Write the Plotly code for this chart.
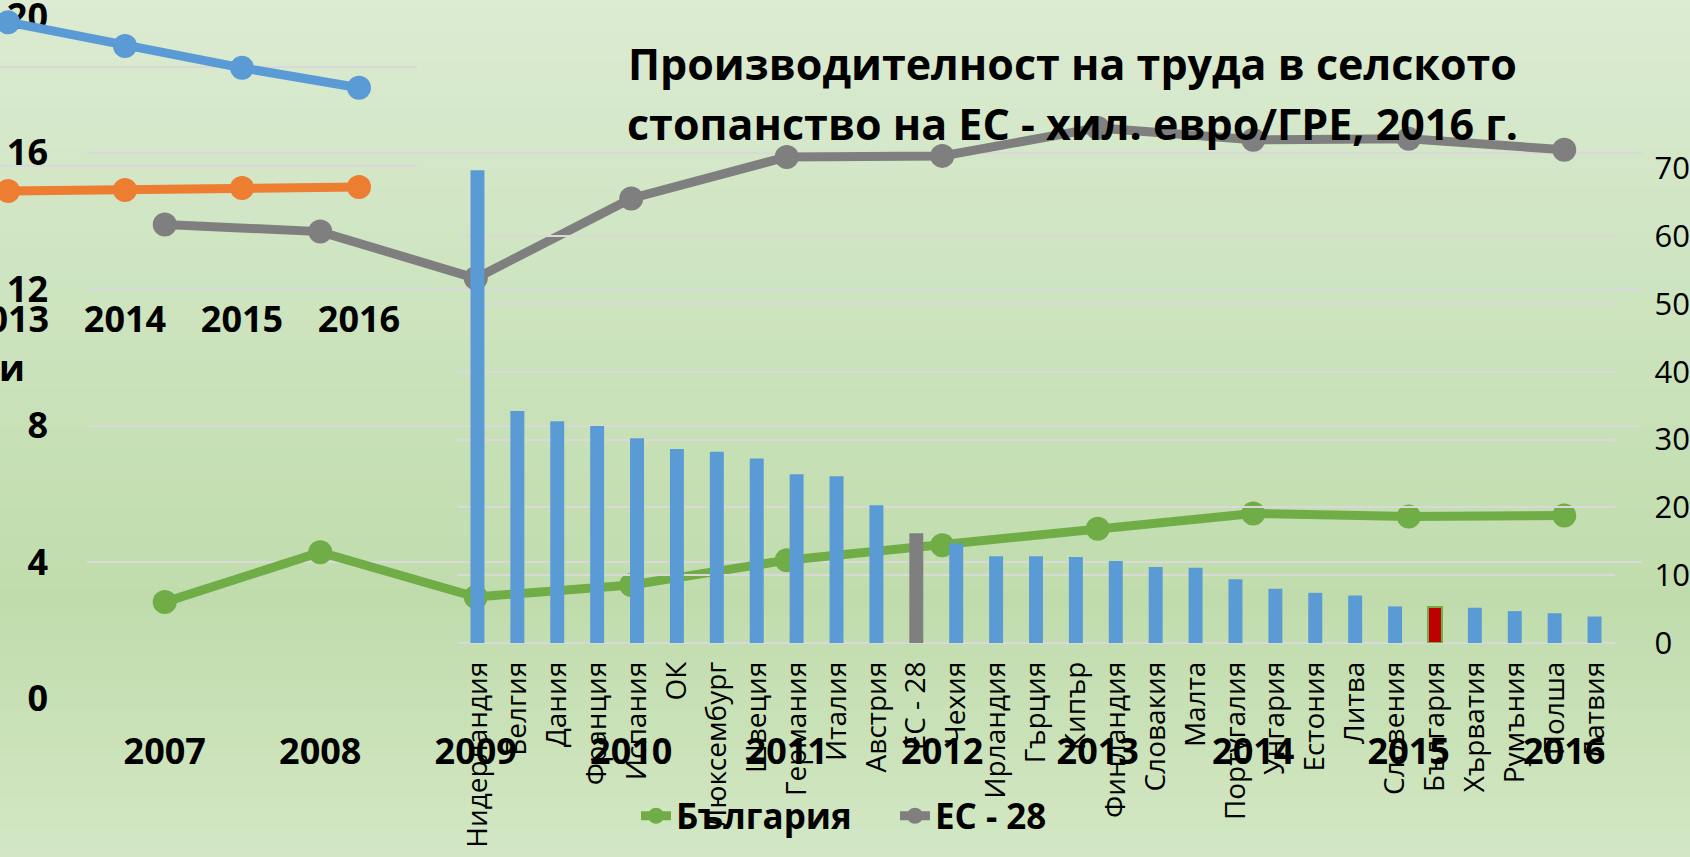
import plotly.graph_objects as go

W, H = 1690, 857

# ---------------- data ----------------
years_main = ["2007", "2008", "2009", "2010", "2011", "2012", "2013", "2014", "2015", "2016"]
bulgaria = [2.83, 4.29, 2.98, 3.33, 4.06, 4.50, 4.98, 5.43, 5.34, 5.37]
eu28 = [13.90, 13.69, 12.32, 14.66, 15.88, 15.91, 16.73, 16.38, 16.41, 16.09]
main_yticks = [0, 4, 8, 12, 16, 20]

years_small = [2013, 2014, 2015, 2016]
blue_small = [16.90, 16.42, 15.98, 15.58]
orange_small = [13.50, 13.52, 13.56, 13.58]

countries = ["Нидерландия", "Белгия", "Дания", "Франция", "Испания", "ОК", "Люксембург",
             "Швеция", "Германия", "Италия", "Австрия", "ЕС - 28", "Чехия", "Ирландия",
             "Гърция", "Кипър", "Финландия", "Словакия", "Малта", "Португалия", "Унгария",
             "Естония", "Литва", "Словения", "България", "Хърватия", "Румъния", "Полша", "Латвия"]
productivity = [69.7, 34.2, 32.7, 32.0, 30.2, 28.6, 28.2, 27.2, 24.9, 24.6, 20.3, 16.2, 14.7,
                12.8, 12.8, 12.7, 12.1, 11.2, 11.1, 9.4, 8.0, 7.4, 7.0, 5.4, 5.3, 5.2, 4.7, 4.4, 3.9]
bar_yticks = [0, 10, 20, 30, 40, 50, 60, 70]

title_lines = ["Производителност на труда в селското",
               "стопанство на ЕС - хил. евро/ГРЕ, 2016 г."]

# ---------------- styles ----------------
GREEN = "#70AD47"
GREY = "#7F7F7F"
BLUE = "#5B9BD5"
ORANGE = "#ED7D31"
RED = "#C00000"
GRID = "#D9D9D9"
FONT = "Open Sans, Noto Sans, DejaVu Sans, sans-serif"

bar_colors = [GREY if c == "ЕС - 28" else (RED if c == "България" else BLUE) for c in countries]
bar_line_colors = [GREEN if c == "България" else "rgba(0,0,0,0)" for c in countries]
bar_line_widths = [2 if c == "България" else 0 for c in countries]


def px_x(p):
    return p / W


def px_y(p):
    return 1 - p / H


fig = go.Figure()

# main chart: Bulgaria vs EU-28 over years
fig.add_trace(go.Scatter(x=years_main, y=bulgaria, name="България", mode="lines+markers",
                         line=dict(color=GREEN, width=9), marker=dict(size=24, color=GREEN),
                         xaxis="x", yaxis="y"))
fig.add_trace(go.Scatter(x=years_main, y=eu28, name="ЕС - 28", mode="lines+markers",
                         line=dict(color=GREY, width=9), marker=dict(size=24, color=GREY),
                         xaxis="x", yaxis="y"))

# bar chart: countries 2016
fig.add_trace(go.Bar(x=countries, y=productivity, width=0.35, showlegend=False,
                     marker=dict(color=bar_colors, line=dict(color=bar_line_colors, width=bar_line_widths)),
                     xaxis="x2", yaxis="y2"))

# small chart top-left
fig.add_trace(go.Scatter(x=years_small, y=blue_small, mode="lines+markers", showlegend=False,
                         line=dict(color=BLUE, width=9), marker=dict(size=24, color=BLUE),
                         xaxis="x3", yaxis="y3"))
fig.add_trace(go.Scatter(x=years_small, y=orange_small, mode="lines+markers", showlegend=False,
                         line=dict(color=ORANGE, width=9), marker=dict(size=24, color=ORANGE),
                         xaxis="x3", yaxis="y3"))

# background gradient bands
stops = [(0.0, (220, 235, 210)), (0.3, (207, 229, 194)), (0.7, (192, 220, 172)), (1.0, (211, 231, 196))]


def grad(t):
    for (t0, c0), (t1, c1) in zip(stops[:-1], stops[1:]):
        if t0 <= t <= t1:
            f = (t - t0) / (t1 - t0)
            return "rgb(%d,%d,%d)" % tuple(round(a + (b - a) * f) for a, b in zip(c0, c1))
    return "rgb(%d,%d,%d)" % stops[-1][1]


shapes = []
n = 86
for i in range(n):
    t = (i + 0.5) / n
    shapes.append(dict(type="rect", xref="paper", yref="paper", x0=0, x1=1,
                       y0=1 - (i + 1) / n - 0.002, y1=1 - i / n, fillcolor=grad(t),
                       line=dict(width=0), layer="below"))

bold_big = dict(family=FONT, size=36, color="black", weight="bold")
title_font = dict(family=FONT, size=43, color="black", weight="bold")

annotations = [dict(text="и", xref="paper", yref="paper", x=px_x(12), y=px_y(367),
                    xanchor="center", yanchor="middle", showarrow=False, font=bold_big)]
for line_text, ypx in zip(title_lines, [64, 124]):
    annotations.append(dict(text=line_text, xref="paper", yref="paper", x=px_x(1072), y=px_y(ypx),
                            xanchor="center", yanchor="middle", showarrow=False, font=title_font))

fig.update_layout(
    template="none",
    width=W, height=H,
    margin=dict(l=0, r=0, t=0, b=0, pad=0, autoexpand=False),
    paper_bgcolor="rgb(205,227,188)",
    plot_bgcolor="rgba(0,0,0,0)",
    shapes=shapes,
    showlegend=True,
    legend=dict(orientation="h", x=px_x(636), xanchor="left", y=px_y(816), yanchor="middle",
                font=dict(family=FONT, size=35, color="black", weight="bold"),
                bgcolor="rgba(0,0,0,0)", entrywidth=214, entrywidthmode="pixels",
                itemsizing="trace"),
    xaxis=dict(domain=[px_x(87), px_x(1642)], anchor="y", type="category", automargin=False,
               range=[-0.5, len(years_main) - 0.5],
               showgrid=False, showline=False, zeroline=False, ticklabeloverflow="allow",
               tickfont=bold_big, ticklabelstandoff=28, ticks=""),
    yaxis=dict(domain=[px_y(699), px_y(16)], anchor="x", range=[-0.01, 20.01], automargin=False,
               tickvals=main_yticks, showgrid=True, gridcolor=GRID, gridwidth=2,
               zeroline=False, showline=False, ticks="", ticklabeloverflow="allow",
               tickfont=bold_big, ticklabelstandoff=38),
    xaxis2=dict(domain=[px_x(457.5), px_x(1614.5)], anchor="y2", type="category", automargin=False,
                range=[-0.5, len(countries) - 0.5],
                showgrid=False, showline=False, zeroline=False, tickangle=-90, ticks="",
                ticklabeloverflow="allow",
                tickfont=dict(family=FONT, size=28, color="black"), ticklabelstandoff=12),
    yaxis2=dict(domain=[px_y(643), px_y(168)], anchor="x2", side="right", range=[0, 70.05],
                automargin=False, ticks="", ticklabeloverflow="allow",
                tickvals=bar_yticks, showgrid=True, gridcolor=GRID, gridwidth=2,
                zeroline=True, zerolinecolor=GRID, zerolinewidth=2, showline=False,
                tickfont=dict(family=FONT, size=31, color="black"), ticklabelstandoff=39),
    xaxis3=dict(domain=[0, px_x(417)], anchor="y3", range=[2012.9316, 2016.4957], automargin=False,
                tickvals=years_small, ticktext=[str(y) for y in years_small], ticks="",
                showgrid=False, showline=False, zeroline=False, ticklabeloverflow="allow",
                tickfont=bold_big, ticklabelstandoff=29),
    yaxis3=dict(domain=[px_y(266), 1], anchor="x3", range=[11.99, 17.3467], automargin=False,
                tickvals=[12, 14, 16], showticklabels=False, showgrid=True, ticks="",
                gridcolor=GRID, gridwidth=2, zeroline=False, showline=False),
    annotations=annotations,
)

fig.write_html("out.html", config={"displayModeBar": False},
               post_script="document.body.style.margin='0px';document.body.style.overflow='hidden';")
